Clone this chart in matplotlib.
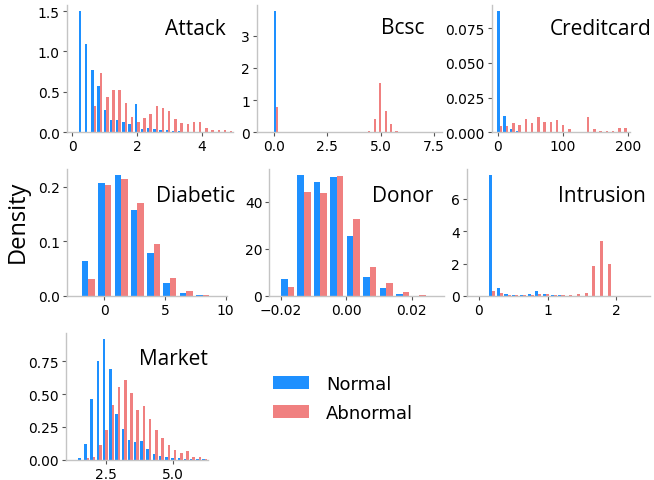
import numpy as np
import matplotlib
matplotlib.use("Agg")
import matplotlib.pyplot as plt

# ---------------- data (histogram densities) ----------------
names = ["Attack", "Bcsc", "Creditcard", "Diabetic", "Donor", "Intrusion", "Market"]

attack_range = (0.185, 4.96)
attack_normal = [1.5, 1.095, 0.77, 0.575, 0.277, 0.153, 0.153, 0.128, 0.103, 0.35, 0.045, 0.058,
                 0.045, 0.03, 0.03, 0.017, 0.015, 0.005, 0.005, 0.003, 0.002, 0.0, 0.0, 0.0, 0.0]
attack_abnormal = [0.0, 0.0, 0.327, 0.735, 0.438, 0.525, 0.525, 0.364, 0.19, 0.128, 0.178, 0.227,
                   0.327, 0.302, 0.264, 0.165, 0.116, 0.103, 0.128, 0.128, 0.054, 0.029, 0.029, 0.029, 0.017]

bcsc_range = (-0.79, 7.85)
bcsc_normal = [0.01, 0.01, 0.01, 3.77, 0.0, 0.0, 0.0, 0.0, 0.0, 0.0, 0.0, 0.0, 0.0, 0.0, 0.0, 0.0, 0.0,
               0.0, 0.0, 0.0, 0.0, 0.0, 0.0, 0.0, 0.0, 0.0, 0.0, 0.0, 0.0, 0.0, 0.0, 0.0, 0.0, 0.0]
bcsc_abnormal = [0.0, 0.0, 0.0, 0.79, 0.0, 0.0, 0.0, 0.0, 0.0, 0.0, 0.0, 0.0, 0.0, 0.0, 0.0, 0.0, 0.0,
                 0.0, 0.0, 0.0, 0.04, 0.42, 1.54, 0.66, 0.26, 0.04, 0.0, 0.0, 0.0, 0.0, 0.0, 0.0, 0.0, 0.0]

creditcard_range = (-1.7, 198.6)
creditcard_normal = [0.0873, 0.0118, 0.0024, 0.001, 0.0, 0.0, 0.0, 0.0, 0.0, 0.0, 0.0, 0.0, 0.0, 0.0,
                     0.0, 0.0, 0.0, 0.0, 0.0, 0.0, 0.0]
creditcard_abnormal = [0.0048, 0.0048, 0.0067, 0.0053, 0.0096, 0.0067, 0.011, 0.0074, 0.0074, 0.0089,
                       0.0053, 0.0024, 0.0, 0.0, 0.011, 0.0024, 0.001, 0.001, 0.001, 0.0031, 0.0028]

diabetic_range = (-1.98, 10.12)
diabetic_normal = [0.064, 0.207, 0.221, 0.157, 0.079, 0.024, 0.0055, 0.002, 0.0008]
diabetic_abnormal = [0.031, 0.203, 0.214, 0.170, 0.095, 0.033, 0.009, 0.002, 0.0003]

donor_range = (-0.0205, 0.0298)
donor_normal = [7.2, 51.3, 48.3, 50.4, 25.4, 8.05, 3.4, 0.85, 0.15, 0.15]
donor_abnormal = [3.8, 44.1, 43.6, 50.8, 32.6, 12.3, 5.5, 1.7, 0.4, 0.0]

intrusion_range = (0.139, 2.49)
intrusion_normal = [7.46, 0.49, 0.12, 0.04, 0.04, 0.12, 0.31, 0.12, 0.06, 0.06, 0.02, 0.02, 0.01,
                    0.01, 0.01, 0.01, 0.01, 0.01, 0.01, 0.01, 0.01]
intrusion_abnormal = [0.31, 0.18, 0.08, 0.06, 0.06, 0.06, 0.12, 0.10, 0.06, 0.06, 0.06, 0.12, 0.18,
                      1.84, 3.38, 1.99, 0.0, 0.0, 0.0, 0.0, 0.0]

market_range = (1.42, 6.33)
market_normal = [0.013, 0.119, 0.46, 0.755, 0.92, 0.694, 0.346, 0.232, 0.149, 0.134, 0.141, 0.081,
                 0.043, 0.028, 0.020, 0.013, 0.013, 0.008, 0.005, 0.005, 0.003]
market_abnormal = [0.0, 0.013, 0.02, 0.111, 0.225, 0.414, 0.558, 0.604, 0.505, 0.376, 0.407, 0.308,
                   0.225, 0.164, 0.111, 0.073, 0.05, 0.066, 0.02, 0.02, 0.005]

series_labels = ["Normal", "Abnormal"]
colors = ["dodgerblue", "lightcoral"]

datasets = [
    (attack_range, attack_normal, attack_abnormal),
    (bcsc_range, bcsc_normal, bcsc_abnormal),
    (creditcard_range, creditcard_normal, creditcard_abnormal),
    (diabetic_range, diabetic_normal, diabetic_abnormal),
    (donor_range, donor_normal, donor_abnormal),
    (intrusion_range, intrusion_normal, intrusion_abnormal),
    (market_range, market_normal, market_abnormal),
]

# ---------------- layout (pixels) ----------------
W, H = 654, 481
# left, right, top, bottom in pixels
boxes = [
    (66.7, 233.0, 6.0, 133.3),
    (256.8, 441.7, 6.0, 133.3),
    (491.7, 630.0, 6.0, 133.3),
    (66.7, 227.0, 170.0, 297.0),
    (269.3, 443.7, 170.0, 297.0),
    (466.7, 650.0, 170.0, 297.0),
    (65.7, 208.3, 334.0, 460.7),
]
xlims = [(-0.17, 4.96), (-0.79, 7.85), (-9.2, 202.6), (-3.1, 10.12),
         (-0.0236, 0.0298), (-0.175, 2.49), (0.98, 6.34)]
xticks = [[0, 2, 4], [0.0, 2.5, 5.0, 7.5], [0, 100, 200], [0, 5, 10],
          [-0.02, 0.0, 0.02], [0, 1, 2], [2.5, 5.0]]
yticks = [[0.0, 0.5, 1.0, 1.5], [0, 1, 2, 3], [0.0, 0.025, 0.05, 0.075], [0.0, 0.1, 0.2],
          [0, 20, 40], [0, 2, 4, 6], [0.0, 0.25, 0.5, 0.75]]
xfmt = ["{:.0f}", "{:.1f}", "{:.0f}", "{:.0f}", "{:.2f}", "{:.0f}", "{:.1f}"]
yfmt = ["{:.1f}", "{:.0f}", "{:.3f}", "{:.1f}", "{:.0f}", "{:.0f}", "{:.2f}"]
# title right edge x and baseline y in pixels
title_pos = [(225.7, 35.0), (424.3, 34.3), (651.7, 35.0), (235.0, 201.7),
             (433.3, 201.7), (646.0, 201.7), (208.3, 365.0)]

fig = plt.figure(figsize=(W / 100, H / 100), dpi=100)
spine_col = "#c4c4c4"

axes = []
for i, ((rng, nrm, abn), (l, r, t, b)) in enumerate(zip(datasets, boxes)):
    ax = fig.add_axes([l / W, 1 - b / H, (r - l) / W, (b - t) / H])
    nb = len(nrm)
    edges = np.linspace(rng[0], rng[1], nb + 1)
    centers = 0.5 * (edges[:-1] + edges[1:])
    ax.hist([centers, centers], bins=edges, weights=[nrm, abn], color=colors,
            label=series_labels)
    ax.set_xlim(*xlims[i])
    ax.set_xticks(xticks[i])
    ax.set_xticklabels([xfmt[i].format(v).replace("-", "\u2212") for v in xticks[i]])
    ax.set_yticks(yticks[i])
    ax.set_yticklabels([yfmt[i].format(v) for v in yticks[i]])
    for s in ["top", "right"]:
        ax.spines[s].set_visible(False)
    for s in ["left", "bottom"]:
        ax.spines[s].set_color(spine_col)
        ax.spines[s].set_linewidth(1.0)
    ax.tick_params(axis="both", labelsize=10, length=3, width=0.8, color="#555555", pad=2)
    tx, ty = title_pos[i]
    fig.text(tx / W, 1 - ty / H, names[i], ha="right", va="baseline",
             fontsize=15, family="Open Sans")
    axes.append(ax)

fig.text(18 / W, 1 - 221.5 / H, "Density", rotation=90, ha="center", va="center",
         fontsize=17, family="Open Sans")

handles, labels = axes[-1].get_legend_handles_labels()
fig.legend(handles, labels, loc="center left", bbox_to_anchor=(256.8 / W, 1 - 399.5 / H),
           frameon=False, fontsize=13, handletextpad=0.95, labelspacing=0.6)

fig.savefig("out.png", dpi=100)
